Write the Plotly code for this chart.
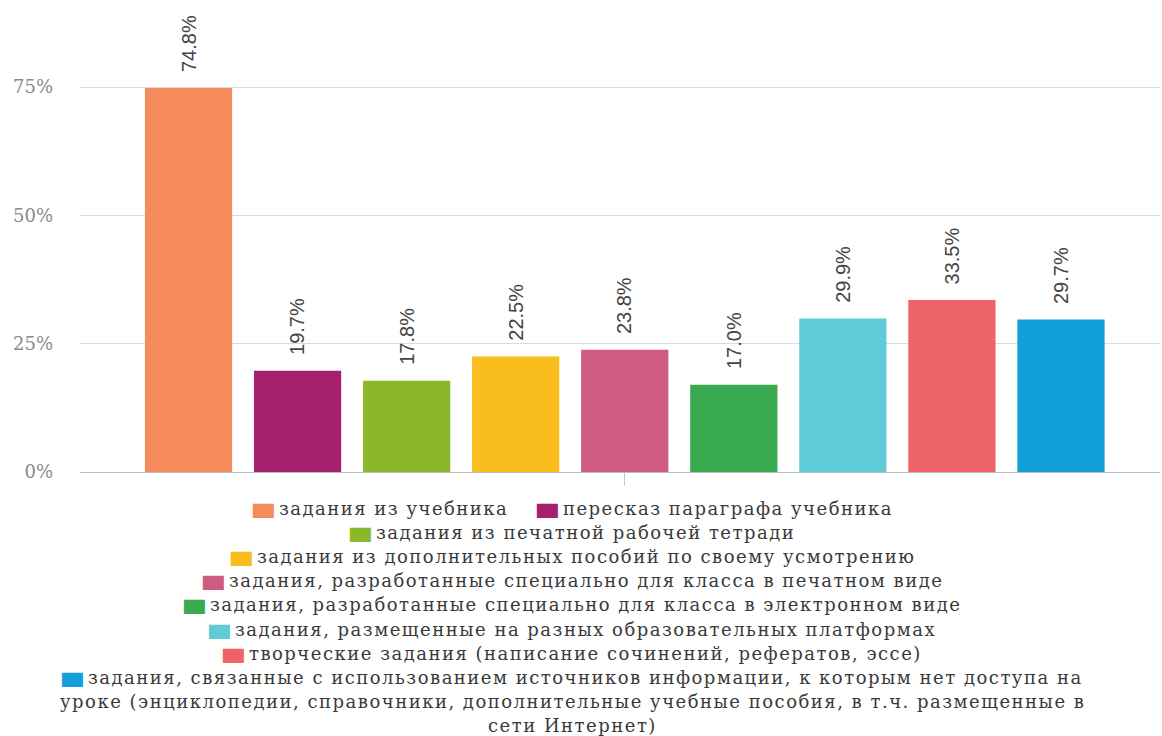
import textwrap
import plotly.graph_objects as go

categories = [
    "задания из учебника",
    "пересказ параграфа учебника",
    "задания из печатной рабочей тетради",
    "задания из дополнительных пособий по своему усмотрению",
    "задания, разработанные специально для класса в печатном виде",
    "задания, разработанные специально для класса в электронном виде",
    "задания, размещенные на разных образовательных платформах",
    "творческие задания (написание сочинений, рефератов, эссе)",
    "задания, связанные с использованием источников информации, к которым нет доступа на уроке (энциклопедии, справочники, дополнительные учебные пособия, в т.ч. размещенные в сети Интернет)",
]
values = [74.8, 19.7, 17.8, 22.5, 23.8, 17.0, 29.9, 33.5, 29.7]
colors = ["#F58A5B", "#A6206F", "#8BB828", "#F9BE1E", "#D05B80",
          "#3AAA50", "#5FCBD6", "#EE6367", "#139FD8"]
y_ticks = [0, 25, 50, 75]
y_tick_labels = ["0%", "25%", "50%", "75%"]

W, H = 1162, 736
ML, MR, MT, MB = 80, 2, 10, 264
plot_h = H - MT - MB
plot_w = W - ML - MR

fig = go.Figure()
for i, (name, v, c) in enumerate(zip(categories, values, colors)):
    fig.add_trace(go.Bar(
        x=[i], y=[v], name=name, marker=dict(color=c, line=dict(width=0)),
        width=0.8, hoverinfo="y", showlegend=False,
    ))
    fig.add_annotation(
        x=i, y=v, text=f"{v:.1f}%", textangle=-90, showarrow=False,
        xanchor="center", yanchor="bottom", yshift=14,
        font=dict(family="Liberation Sans", size=20, color="#444"),
    )

# ---- legend (centered rows, like the original) ----
def swatch(c):
    return (f'<span style="font-family:DejaVu Sans Mono;font-size:12px;'
            f'letter-spacing:-0.5px;color:{c}">\u2588\u2588\u2588</span>')

def label(t):
    return f'<span style="letter-spacing:1.5px">{t}</span>'

legend_rows = []
legend_rows.append(swatch(colors[0]) + " " + label(categories[0])
                   + "\u00a0" * 5 + swatch(colors[1]) + " " + label(categories[1]))
for k in range(2, 8):
    legend_rows.append(swatch(colors[k]) + " " + label(categories[k]))
wrapped = textwrap.wrap(categories[8], 88)
legend_rows.append(swatch(colors[8]) + " " + label(wrapped[0]))
for line in wrapped[1:]:
    legend_rows.append(label(line))

row0_px, row_step = 508, 24.2
center_px = 572
for r, txt in enumerate(legend_rows):
    py = row0_px + r * row_step
    fig.add_annotation(
        xref="paper", yref="paper",
        x=(center_px - ML) / plot_w, y=(H - MB - py) / plot_h,
        xanchor="center", yanchor="middle", showarrow=False,
        text=txt, align="center",
        font=dict(family="DejaVu Serif", size=18, color="#3a3a3a"),
    )

fig.update_layout(
    width=W, height=H,
    margin=dict(l=ML, r=MR, t=MT, b=MB, autoexpand=False),
    paper_bgcolor="white", plot_bgcolor="white",
    barmode="overlay", showlegend=False,
    xaxis=dict(
        range=[-0.995, 8.908], tickvals=[4], ticktext=[""], ticks="outside",
        ticklen=13, tickcolor="#c8c8c8", showgrid=False, zeroline=False,
        showline=False, fixedrange=True, automargin=False,
    ),
    yaxis=dict(
        range=[0, 90], tickvals=y_ticks, ticktext=y_tick_labels,
        showgrid=True, gridcolor="#d6dbe1", gridwidth=1,
        zeroline=True, zerolinecolor="#b4bfca", zerolinewidth=1,
        ticklabelstandoff=26, automargin=False,
        tickfont=dict(family="DejaVu Serif", size=18, color="#8a8a8a"),
        fixedrange=True,
    ),
)

fig.write_html(
    "out.html",
    config={"displayModeBar": False},
    post_script="document.body.style.margin='0';document.body.style.overflow='hidden';",
)
